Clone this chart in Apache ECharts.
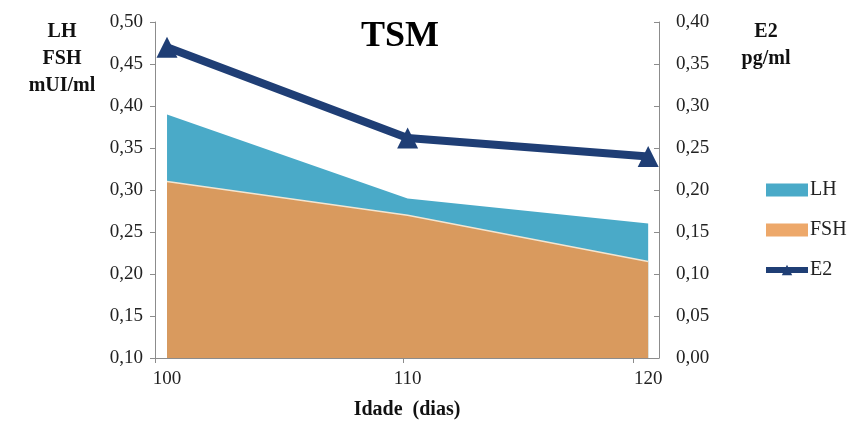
<!DOCTYPE html>
<html>
<head>
<meta charset="utf-8">
<script src="https://cdn.jsdelivr.net/npm/echarts@6/dist/echarts.min.js"></script>
<style>
  html, body { margin: 0; padding: 0; background: #fff; }
  #chart { width: 860px; height: 425px; }
</style>
</head>
<body>
<div id="chart"></div>
<script>
// Age in days and hormone levels
const ages = [100, 110, 120];
const lhValues = [0.39, 0.29, 0.26];      // mUI/ml
const fshValues = [0.31, 0.27, 0.215];    // mUI/ml
const e2Values = [0.37, 0.262, 0.24];     // pg/ml

const serif = '"Liberation Serif", "DejaVu Serif", serif';
const axisGray = '#8c8c8c';

const pairs = (xs, ys) => xs.map((x, i) => [x, ys[i]]);
const fmt = v => v.toFixed(2).replace('.', ',');

const chart = echarts.init(document.getElementById('chart'));
chart.setOption({
  animation: false,
  title: {
    text: 'TSM',
    left: 395, top: 14, textAlign: 'center',
    textStyle: { fontFamily: serif, fontSize: 36, fontWeight: 'bold', color: '#000' }
  },
  grid: { left: 155, right: 201, top: 22, bottom: 64 },
  legend: {
    orient: 'vertical',
    left: 758, top: 175,
    itemGap: 20,
    itemWidth: 42, itemHeight: 13,
    textStyle: { fontFamily: serif, fontSize: 20, color: '#222', padding: [0, 0, 0, -3] },
    data: [
      { name: 'LH', icon: 'rect' },
      { name: 'FSH', icon: 'rect' },
      { name: 'E2', lineStyle: { width: 6 } }
    ]
  },
  graphic: [
    { type: 'text', x: 62, y: 18, style: {
      text: 'LH\nFSH\nmUI/ml', fill: '#111', font: 'bold 20px ' + serif,
      align: 'center', lineHeight: 27 } },
    { type: 'text', x: 766, y: 18, style: {
      text: 'E2\npg/ml', fill: '#111', font: 'bold 20px ' + serif,
      align: 'center', lineHeight: 27 } }
  ],
  xAxis: {
    type: 'value',
    min: 99.5, max: 120.45,
    name: 'Idade  (dias)',
    nameLocation: 'middle',
    nameGap: 42,
    nameTextStyle: { fontFamily: serif, fontSize: 20, fontWeight: 'bold', color: '#111' },
    axisLine: { show: true, lineStyle: { color: axisGray } },
    axisTick: { show: true, customValues: [99.5, 109.8, 119.4], length: 5, lineStyle: { color: axisGray } },
    axisLabel: { customValues: ages, fontFamily: serif, fontSize: 19, color: '#222', margin: 12 },
    splitLine: { show: false }
  },
  yAxis: [
    {
      type: 'value', min: 0.10, max: 0.50, interval: 0.05,
      axisLine: { show: true, lineStyle: { color: axisGray } },
      axisTick: { show: true, length: 5, lineStyle: { color: axisGray } },
      axisLabel: { fontFamily: serif, fontSize: 19, color: '#222', margin: 12, formatter: fmt },
      splitLine: { show: false }
    },
    {
      type: 'value', min: 0, max: 0.40, interval: 0.05, position: 'right',
      axisLine: { show: true, lineStyle: { color: axisGray } },
      axisTick: { show: true, inside: true, length: 5, lineStyle: { color: axisGray } },
      axisLabel: { fontFamily: serif, fontSize: 19, color: '#222', margin: 17, formatter: fmt },
      splitLine: { show: false }
    }
  ],
  series: [
    {
      name: 'LH', type: 'line', yAxisIndex: 0,
      data: pairs(ages, lhValues),
      symbol: 'none',
      lineStyle: { width: 0 },
      itemStyle: { color: '#4aaac8' },
      areaStyle: { color: '#4aaac8', opacity: 1, origin: 'start' },
      z: 1
    },
    {
      name: 'FSH', type: 'line', yAxisIndex: 0,
      data: pairs(ages, fshValues),
      symbol: 'none',
      lineStyle: { width: 1.5, color: '#f3e6d2' },
      itemStyle: { color: '#eda86a' },
      areaStyle: { color: '#d99a5e', opacity: 1, origin: 'start' },
      z: 2
    },
    {
      name: 'E2', type: 'line', yAxisIndex: 1,
      data: pairs(ages, e2Values),
      symbol: 'triangle', symbolSize: 21,
      lineStyle: { width: 8, color: '#1f3e75' },
      itemStyle: { color: '#1f3e75' },
      z: 3
    }
  ]
});
</script>
</body>
</html>
